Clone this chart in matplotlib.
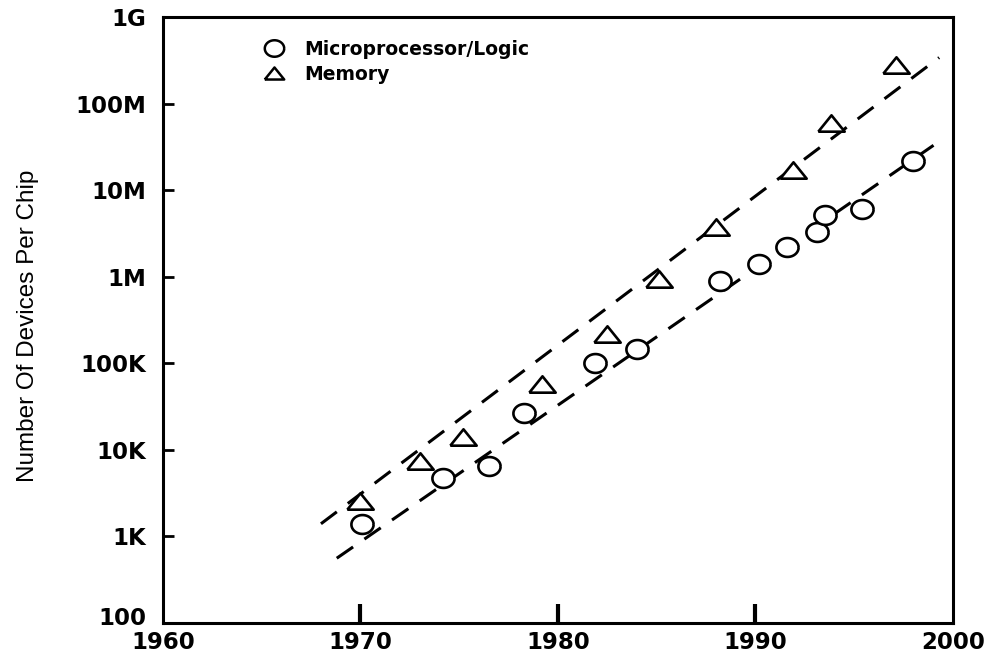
import numpy as np
import matplotlib.pyplot as plt
import matplotlib.transforms as mtransforms
from matplotlib.ticker import FixedLocator, FixedFormatter

# Memory (triangles) and microprocessor/logic (circles) transistor counts
mem_years = [1970.0, 1973.0, 1975.2, 1979.2, 1982.5, 1985.1, 1988.0, 1991.9, 1993.8, 1997.1]
mem_counts = [2.6e3, 7.5e3, 1.4e4, 5.8e4, 2.2e5, 9.3e5, 3.8e6, 1.7e7, 6.0e7, 2.8e8]

mpu_years = [1970.1, 1974.2, 1976.5, 1978.3, 1981.9, 1984.0, 1988.2, 1990.2, 1991.6,
             1993.1, 1993.5, 1995.4, 1998.0]
mpu_counts = [1.4e3, 4.7e3, 6.5e3, 2.7e4, 1.0e5, 1.45e5, 9.0e5, 1.4e6, 2.2e6,
              3.3e6, 5.2e6, 6.0e6, 2.2e7]

# dashed trend lines (endpoints)
mem_trend_years = [1968.0, 1999.3]
mem_trend_counts = [1.4e3, 3.4e8]
mpu_trend_years = [1968.8, 1999.1]
mpu_trend_counts = [5.6e2, 3.4e7]

y_ticks = [1e2, 1e3, 1e4, 1e5, 1e6, 1e7, 1e8, 1e9]
y_labels = ['100', '1K', '10K', '100K', '1M', '10M', '100M', '1G']
x_ticks = [1960, 1970, 1980, 1990, 2000]
x_labels = ['1960', '1970', '1980', '1990', '2000']

# wide flat triangle and slightly squashed circle markers
tri = [(-1, -0.62), (1, -0.62), (0, 0.62), (-1, -0.62)]
t = np.linspace(0, 2 * np.pi, 40)
ell = list(zip(np.cos(t), 0.85 * np.sin(t)))

fig = plt.figure(figsize=(9.93, 6.54), dpi=100)
ax = fig.add_axes([0.1641, 0.0474, 0.7956, 0.9266])

ax.plot(mem_trend_years, mem_trend_counts, color='black', lw=2.2, dashes=(6.5, 4.5))
ax.plot(mpu_trend_years, mpu_trend_counts, color='black', lw=2.2, dashes=(6.5, 4.5))

ax.plot(mpu_years, mpu_counts, ls='none', marker=ell, ms=16, mfc='white',
        mec='black', mew=1.9, label='Microprocessor/Logic')
ax.plot(mem_years, mem_counts, ls='none', marker=tri, ms=19, mfc='white',
        mec='black', mew=1.9, label='Memory')

ax.set_yscale('log')
ax.set_xlim(1960, 2000)
ax.set_ylim(1e2, 1e9)

ax.yaxis.set_major_locator(FixedLocator(y_ticks))
ax.yaxis.set_major_formatter(FixedFormatter(y_labels))
ax.yaxis.set_minor_locator(FixedLocator([]))
ax.xaxis.set_major_locator(FixedLocator(x_ticks))
ax.xaxis.set_major_formatter(FixedFormatter(x_labels))

ax.tick_params(axis='y', direction='in', length=8, width=2, pad=12,
               labelsize=16.5)
ax.tick_params(axis='x', direction='in', length=14, width=3, pad=6,
               labelsize=16.5)
for lab in ax.get_xticklabels() + ax.get_yticklabels():
    lab.set_fontweight('bold')
    lab.set_family('DejaVu Sans')

# no tick marks at the corners
xt = ax.xaxis.get_major_ticks()
xt[0].tick1line.set_visible(False)
xt[-1].tick1line.set_visible(False)
yt = ax.yaxis.get_major_ticks()
yt[0].tick1line.set_visible(False)
yt[-1].tick1line.set_visible(False)

# lift the bottom "100" label a little so it clears "1960"
fig.canvas.draw()
lab100 = yt[0].label1
lab100.set_transform(lab100.get_transform() +
                     mtransforms.ScaledTranslation(0, 5 / 72, fig.dpi_scale_trans))

for sp in ax.spines.values():
    sp.set_linewidth(2.2)

ax.set_ylabel('Number Of Devices Per Chip', fontsize=17.5, family='Liberation Sans',
              fontweight='medium')
ax.yaxis.set_label_coords(-0.157, 0.49)

leg = ax.legend(loc='upper left', bbox_to_anchor=(0.105, 0.99), frameon=False,
                handlelength=1.2, handletextpad=1.0, labelspacing=0.3,
                prop={'family': 'DejaVu Sans', 'weight': 'bold', 'size': 13.5})
for h in leg.legend_handles:
    h.set_markersize(14)
    h.set_markeredgewidth(1.8)

fig.savefig('out.png', dpi=100)
